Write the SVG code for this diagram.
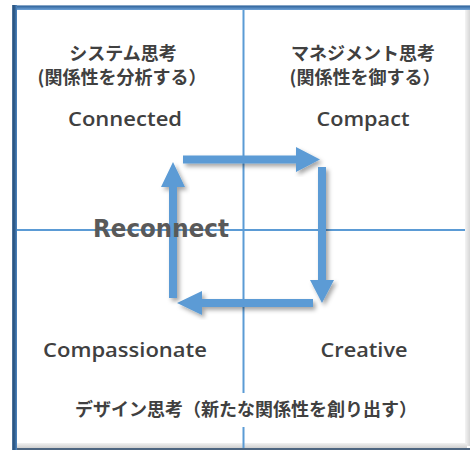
<svg xmlns="http://www.w3.org/2000/svg" width="470" height="450" viewBox="0 0 470 450">
  <defs>
    <linearGradient id="gL" x1="0" y1="0" x2="1" y2="0">
      <stop offset="0" stop-color="#5b7fa6"/>
      <stop offset="0.35" stop-color="#244f7c"/>
      <stop offset="1" stop-color="#4f86c0"/>
    </linearGradient>
    <linearGradient id="gT" x1="0" y1="0" x2="0" y2="1">
      <stop offset="0" stop-color="#a9bfd6"/>
      <stop offset="0.3" stop-color="#3a6ea5"/>
      <stop offset="1" stop-color="#6fa3d8"/>
    </linearGradient>
    <linearGradient id="gR" x1="0" y1="0" x2="1" y2="0">
      <stop offset="0" stop-color="#f4f4f4"/>
      <stop offset="1" stop-color="#d6d6d6"/>
    </linearGradient>
    <linearGradient id="gB" x1="0" y1="0" x2="0" y2="1">
      <stop offset="0" stop-color="#f2f2f2"/>
      <stop offset="1" stop-color="#cfcfcf"/>
    </linearGradient>
    <filter id="sh" x="-20%" y="-20%" width="140%" height="140%">
      <feDropShadow dx="2.5" dy="3" stdDeviation="2" flood-color="#000" flood-opacity="0.35"/>
    </filter>
    <style>
      .grid{stroke:#5b9bd5;stroke-width:2;fill:none}
      .arrow{fill:#5b9bd5;filter:url(#sh)}
      .jp{font-family:"Noto Sans CJK JP","Noto Sans CJK SC",sans-serif;font-weight:700;font-size:18px;fill:#404040;text-anchor:middle}
      .en{font-family:"Open Sans","Liberation Sans",sans-serif;font-weight:600;font-size:19px;fill:#404040;text-anchor:middle}
      .big{font-family:"DejaVu Sans","Liberation Sans",sans-serif;font-weight:700;font-size:24px;fill:#595959;text-anchor:middle}
    </style>
  </defs>

  <rect x="0" y="0" width="470" height="450" fill="#ffffff"/>

  <g id="frame">
    <rect x="17" y="10" width="448" height="434" fill="#ffffff"/>
    <rect x="465" y="10" width="5" height="436" fill="url(#gR)"/>
    <rect x="17" y="443" width="450" height="5" fill="url(#gB)"/>
    <rect x="12" y="448" width="458" height="2" fill="#4d6580"/>
    <rect x="12" y="5" width="458" height="5" fill="url(#gT)"/>
    <rect x="12" y="5" width="5" height="445" fill="url(#gL)"/>
  </g>

  <g id="grid">
    <line class="grid" x1="243.5" y1="10" x2="243.5" y2="448"/>
    <line class="grid" x1="17" y1="230" x2="465" y2="230"/>
    <rect x="60" y="393" width="360" height="34" fill="#ffffff"/>
  </g>

  <g id="connectors">
    <polygon class="arrow" points="183,155.5 296,155.5 296,147 320,159.5 296,172 296,163.5 183,163.5"/>
    <polygon class="arrow" points="318,167 326,167 326,280 334,280 322,303 310,280 318,280"/>
    <polygon class="arrow" points="313,299 313,307 202,307 202,315 177,303 202,291 202,299"/>
    <polygon class="arrow" points="169,298 177,298 177,187 185,187 173,162 161,187 169,187"/>
  </g>

  <g id="connected">
    <text class="jp" x="123" y="60">システム思考</text>
    <text class="jp" x="122" y="84">(関係性を分析する）</text>
    <text class="en" x="125" y="126" textLength="114" lengthAdjust="spacingAndGlyphs">Connected</text>
  </g>

  <g id="compact">
    <text class="jp" x="363" y="60">マネジメント思考</text>
    <text class="jp" x="365" y="84">(関係性を御する）</text>
    <text class="en" x="363" y="126" textLength="93" lengthAdjust="spacingAndGlyphs">Compact</text>
  </g>

  <g id="reconnect">
    <text class="big" x="161" y="237" textLength="136" lengthAdjust="spacingAndGlyphs">Reconnect</text>
  </g>

  <g id="compassionate">
    <text class="en" x="125" y="357" textLength="164" lengthAdjust="spacingAndGlyphs">Compassionate</text>
  </g>

  <g id="creative">
    <text class="en" x="364" y="357" textLength="87" lengthAdjust="spacingAndGlyphs">Creative</text>
  </g>

  <g id="design">
    <text class="jp" x="246" y="416">デザイン思考（新たな関係性を創り出す）</text>
  </g>
</svg>
